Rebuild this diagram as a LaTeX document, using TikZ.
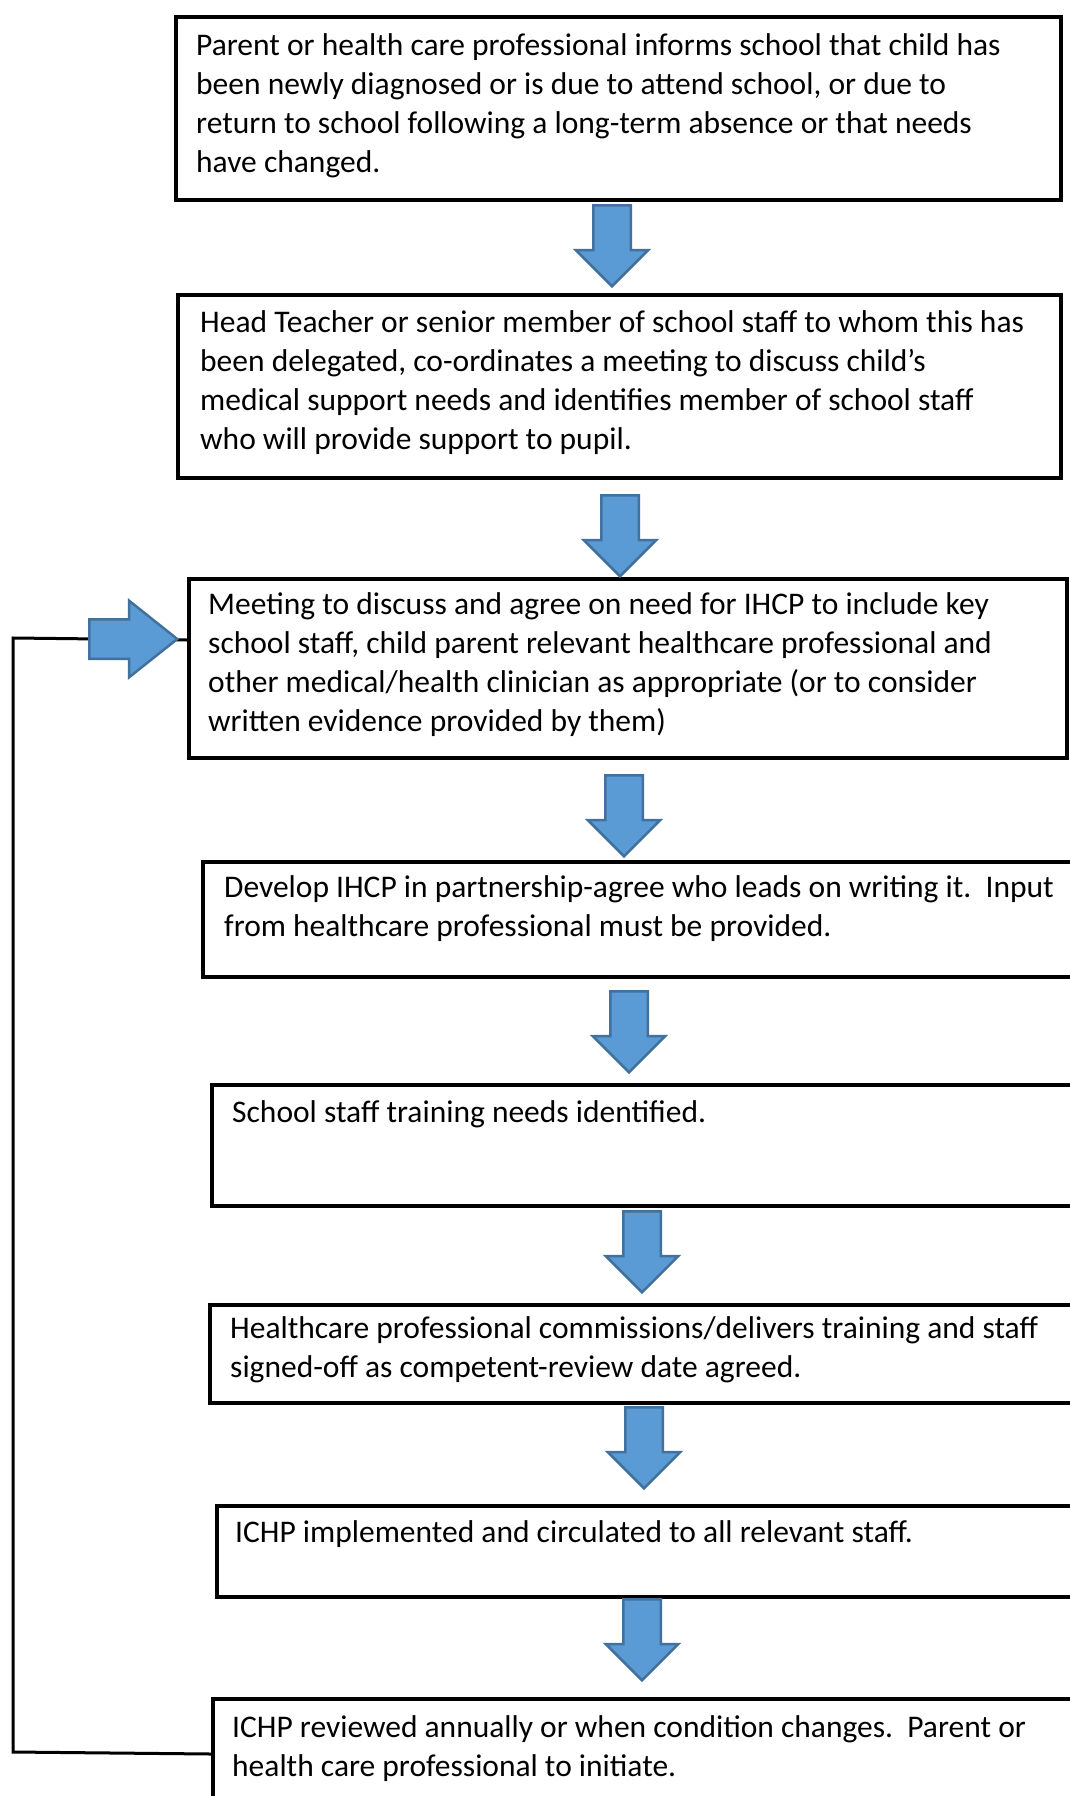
\documentclass[tikz,border=0pt]{standalone}
\usepackage{fontspec}
\setmainfont{Carlito}
\usetikzlibrary{positioning}
\usetikzlibrary{shapes.arrows}
\definecolor{arrowfill}{HTML}{5B9BD5}
\definecolor{arrowedge}{HTML}{41719C}

\begin{document}
\begin{tikzpicture}[x=1pt, y=-1pt,
  stagebox/.style={draw, line width=4pt, anchor=north west, inner sep=0pt},
  stagetext/.style={anchor=base west, align=left, inner sep=0pt,
    font=\fontsize{31.5}{39}\selectfont},
  downarrow/.style={single arrow, draw=arrowedge, fill=arrowfill, line width=2.5pt,
    inner sep=17.5pt, minimum height=81pt, minimum width=70pt,
    single arrow head extend=17.5pt, single arrow head indent=0pt,
    shape border rotate=270, anchor=tail},
  backarrow/.style={single arrow, draw=arrowedge, fill=arrowfill, line width=2.5pt,
    inner sep=18.5pt, minimum height=88pt, minimum width=74pt,
    single arrow head extend=18.5pt, single arrow head indent=0pt,
    single arrow tip angle=77, anchor=tail},
  loopline/.style={draw, line width=3pt}]
\useasboundingbox (0,0) rectangle (1069,1796);

% Cadres
\node[stagebox, minimum width=885pt, minimum height=183pt] (s1) at (174,15) {};
\node[stagebox, minimum width=883pt, minimum height=183pt] (s2) at (176,293) {};
\node[stagebox, minimum width=878pt, minimum height=179pt] (s3) at (187,577) {};
\node[stagebox, minimum width=920pt, minimum height=115pt] (s4) at (201,860) {};
\node[stagebox, minimum width=910pt, minimum height=121pt] (s5) at (210,1083) {};
\node[stagebox, minimum width=910pt, minimum height=98pt] (s6) at (208,1303) {};
\node[stagebox, minimum width=910pt, minimum height=91pt] (s7) at (215,1504) {};
\node[stagebox, minimum width=910pt, minimum height=150pt] (s8) at (211,1697) {};

% Textes (placés sur la ligne de base de leur dernière ligne)
\node[stagetext] (t1) at (196,172) {Parent or health care professional informs school that child has\\
  been newly diagnosed or is due to attend school, or due to\\
  return to school following a long-term absence or that needs\\
  have changed.};
\node[stagetext] (t2) at (200,449) {Head Teacher or senior member of school staff to whom this has\\
  been delegated, co-ordinates a meeting to discuss child’s\\
  medical support needs and identifies member of school staff\\
  who will provide support to pupil.};
\node[stagetext] (t3) at (208,731) {Meeting to discuss and agree on need for IHCP to include key\\
  school staff, child parent relevant healthcare professional and\\
  other medical/health clinician as appropriate (or to consider\\
  written evidence provided by them)};
\node[stagetext] (t4) at (224,936) {Develop IHCP in partnership-agree who leads on writing it.\ \ Input\\
  from healthcare professional must be provided.};
\node[stagetext] (t5) at (232,1122) {School staff training needs identified.};
\node[stagetext] (t6) at (230,1377) {Healthcare professional commissions/delivers training and staff\\
  signed-off as competent-review date agreed.};
\node[stagetext] (t7) at (235,1542) {ICHP implemented and circulated to all relevant staff.};
\node[stagetext] (t8) at (232,1776) {ICHP reviewed annually or when condition changes.\ \ Parent or\\
  health care professional to initiate.};

% Retour vers la réunion
\coordinate (c1) at (13,1752);
\coordinate (c2) at (13,638);
\draw[loopline] ([yshift=-57pt]s8.north west) -- (c1) -- (c2) -- ([yshift=-63pt]s3.north west);
\node[backarrow] (r1) at (88,639) {};

% Flèches
\node[downarrow] (a1) at (612,204) {};
\node[downarrow] (a2) at (620,494) {};
\node[downarrow] (a3) at (624,774) {};
\node[downarrow] (a4) at (629,990) {};
\node[downarrow] (a5) at (642,1210) {};
\node[downarrow] (a6) at (644,1406) {};
\node[downarrow] (a7) at (642,1598) {};

\end{tikzpicture}
\end{document}
